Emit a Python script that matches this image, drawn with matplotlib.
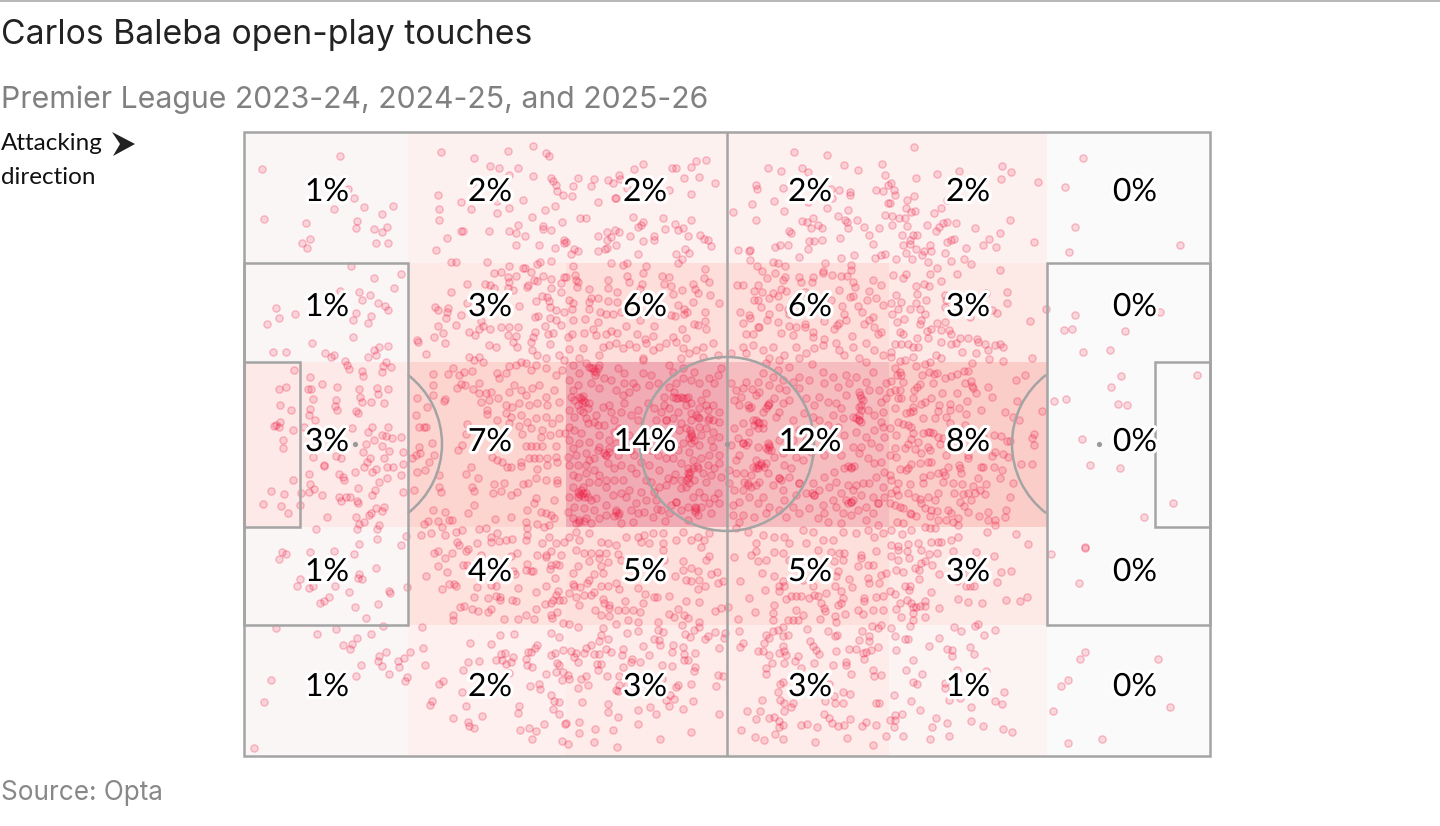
import matplotlib
matplotlib.use("Agg")
import matplotlib.pyplot as plt
import matplotlib.patheffects as pe
from matplotlib.colors import to_rgb
from matplotlib.patches import Rectangle, Circle, Arc, Polygon
from matplotlib.lines import Line2D
import numpy as np

TITLE = "Carlos Baleba open-play touches"
SUBTITLE = "Premier League 2023-24, 2024-25, and 2025-26"
SOURCE = "Source: Opta"

# zone labels, rows top to bottom, columns left to right
zone_pct = [
    [1, 2, 2, 2, 2, 0],
    [1, 3, 6, 6, 3, 0],
    [3, 7, 14, 12, 8, 0],
    [1, 4, 5, 5, 3, 0],
    [1, 2, 3, 3, 1, 0],
]
# the same shares before rounding, estimated from the shading
zone_share = [
    [1.0, 1.8, 1.8, 1.8, 1.8, 0.0],
    [1.0, 3.0, 5.5, 5.5, 3.0, 0.0],
    [2.8, 7.0, 14.0, 12.0, 8.0, 0.0],
    [1.0, 4.0, 5.0, 5.0, 3.0, 0.0],
    [1.0, 2.0, 2.6, 2.6, 1.4, 0.0],
]
# touches, read per block of the pitch; a pitch unit is a third of a pixel
touches_top_left = [(288,73),(53,111),(311,172),(331,197),(360,225),(447,221),(269,231),(415,245),(61,261),(339,267),(186,272),(337,288),(389,291),(429,284),(415,300),(198,321),(174,332),(188,349),(395,333),(432,334),
(592,60),(690,79),(792,57),(867,41),(907,62),(916,73),(737,103),(766,109),(821,109),(795,129),(867,133),(922,137),(926,146),(936,160),(939,178),(956,190),(683,152),(583,189),(650,210),(838,203),(758,208),(586,231),(682,231),(794,228),(902,233),(934,223),(760,244),(864,255),(586,265),(954,270),(821,280),(896,281),(896,291),(922,295),(652,296),(658,296),(734,297),(794,296),(815,302),(844,313),(609,319),(961,325),(961,333),(815,340),(885,340),(934,347),(577,355),
(621,389),(635,390),(728,391),(794,403),(838,407),(842,409),(887,391),(880,396),(922,388),(749,424),(771,421),(815,432),(861,420),(896,431),(793,436),(795,450),(793,468),(808,475),(670,456),(722,456),(739,458),(751,467),(851,460),(850,466),(870,443),(880,448),(920,441),(951,452),(961,435),(921,467),(951,479),(621,479),(893,491),(910,495),(876,506),(914,508),(670,513),(826,523),(918,525),(574,526),(583,534),(612,528),(610,541),(605,558),(650,549),(882,552),(872,556),(918,558),(935,535),(961,540),(936,565),(950,578),(712,568),(718,582),(581,582),(635,578),(902,581),(771,585),(794,585),(821,585),(737,590),(705,590),(597,604),(569,616),(674,601),(693,608),(792,610),(815,612),(873,601),(868,616),(913,605),(928,604),(520,624),
(322,403),(391,437),(470,425),(450,467),(345,479),(377,490),(354,505),(401,512),(424,523),(432,533),(288,477),(96,529),(105,557),(154,546),(337,543),(326,563),(380,551),(371,574),(69,576),(328,616),(290,530)]

touches_top_centre = [(683,60),(782,68),(421,83),(391,87),(232,96),(205,112),(319,107),(331,107),(376,104),(605,107),(646,118),(708,108),(727,119),(835,99),(875,114),(948,96),(958,130),(35,137),(84,141),(127,145),(142,152),(160,128),(162,142),(353,137),(400,135),(446,152),(20,163),(75,161),(183,168),(310,174),(376,186),(17,193),(95,210),(147,198),(150,198),(571,160),(573,170),(652,167),(795,172),(820,174),(853,181),(851,190),(797,199),(930,174),(950,176),(965,160),(623,208),(559,216),(727,210),(501,240),(655,238),(782,227),(846,234),(965,214),(958,248),(43,259),(60,257),(200,254),(290,257),(374,263),(232,270),(226,278),(217,285),(328,275),(298,291),(335,294),(352,289),(571,265),(709,268),(722,270),(742,258),(736,289),(755,279),(768,288),(815,251),(837,263),(843,270),(846,288),(874,264),(895,285),(938,289),(95,312),(124,301),(148,293),(159,301),(134,316),(124,323),(191,312),(365,311),(403,310),(415,320),(427,325),(436,341),(265,313),(263,325),(232,326),(0,330),(151,338),(668,297),(675,304),(909,308),(823,317),(730,328),(744,326),(768,325),(922,337),(628,344),(641,340),(667,340),(727,350),(123,348),(117,350),(95,357),(25,351),(37,356),(14,365),(356,351),(369,362),(331,365),(217,367),(516,355),(548,358),(553,354),(698,375),(826,377),(864,368),(926,377),(946,370),(956,365),(347,381),(336,393),(553,385),(136,394),(183,393),(170,400),(20,402),(240,403),(621,389),(637,394),(656,402),(572,403),(588,416),(776,392),(856,400),(856,413),(770,418),(417,412),
(0,435),(26,430),(30,445),(36,450),(32,465),(182,431),(232,424),(127,443),(190,449),(228,455),(288,432),(310,436),(295,456),(316,462),(414,437),(430,450),(381,455),(388,472),(397,484),(68,471),(125,467),(152,481),(222,470),(321,487),(347,475),(432,488),(75,497),(95,497),(125,506),(153,511),(20,512),(8,503),(70,511),(458,512),(380,509),(336,518),(70,530),(18,530),(353,530),(103,541),(120,547),(140,547),(165,541),(280,548),(316,549),(326,553),(355,545),(362,540),(417,541),(58,560),(97,570),(22,565),(180,582),(222,565),(263,582),(417,567),(385,575),(397,580),(347,590),(80,590),(55,604),(120,607),(135,597),(152,604),(18,605),(5,615),(90,610),(212,605),(262,612),(322,615),(360,618),(420,590),(238,620),
(514,459),(531,459),(575,460),(563,478),(587,479),(608,498),(620,484),(635,492),(652,444),(658,434),(603,437),(626,424),(698,436),(704,450),(742,436),(737,449),(770,423),(797,429),(824,432),(842,431),(860,450),(866,465),(646,470),(660,477),(696,485),(716,479),(820,475),(860,492),(852,495),(910,476),(945,459),(921,443),(565,505),(577,505),(585,525),(521,540),(548,548),(552,558),(610,545),(602,565),(640,525),(665,530),(668,545),(795,505),(828,522),(835,545),(875,523),(889,540),(904,505),(930,497),(950,520),(531,572),(575,585),(560,605),(540,605),(580,585),(636,570),(668,583),(690,585),(716,575),(717,585),(645,602),(680,610),(742,600),(740,615),(775,566),(820,572),(812,580),(805,590),(840,565),(858,612),(920,555),(908,565),(925,585),(895,575),(935,605),(945,600),(775,620)]

touches_top_right = [(77,45),(585,79),(341,101),(370,119),(213,116),(147,126),(83,138),(338,141),(451,149),(530,164),(10,152),(18,175),(22,190),(78,192),(57,203),(176,204),(6,213),(54,229),(80,237),(70,241),(158,229),(138,244),(12,253),(34,257),(50,259),(13,279),(57,281),(118,280),(367,263),(178,270),(165,274),(152,285),(144,297),(203,274),(260,288),(561,286),(335,302),(42,310),(75,310),(87,310),(66,325),(303,322),(198,320),(190,325),(178,329),(437,331),(286,338),(45,340),(65,335),(127,340),(323,344),(234,348),(875,340),(84,351),(130,356),(108,357),(103,369),(170,364),(55,363),(544,361),(25,381),(71,381),(190,386),(228,381),(120,390),(248,397),(147,407),(335,415),(54,425),(15,428),(45,437),(127,426),(208,427),(159,446),(83,461),(108,456),(124,463),(358,479),(295,483),(23,489),(88,486),(170,490),(115,505),(175,505),(356,513),(40,510),(8,513),(83,512),(172,525),(65,530),(30,530),(97,532),(112,545),(13,546),(312,535),(326,544),(474,530),(561,550),(817,541),(245,555),(47,561),(28,571),(97,575),(147,572),(170,569),(425,567),(100,565),(527,593),(552,590),(712,598),(35,600),(45,605),(130,590),(118,598),(160,595),(182,595),(190,606),(88,617),(120,617),(215,618),(240,618),(268,622)]

touches_mid_left = [(203,9),(88,35),(125,35),(244,38),(260,50),(270,44),(390,30),(405,20),(432,18),(372,52),(395,46),(303,62),(310,74),(314,86),(151,91),(354,94),(357,108),(197,110),(425,67),(418,78),(440,82),(415,95),(235,132),(279,140),(125,140),(104,148),(193,146),(200,146),(345,147),(400,143),(401,163),(432,147),(207,176),(348,170),(355,185),(380,186),(421,190),(275,180),(272,198),(279,209),(108,196),(142,211),(197,207),(195,226),(336,212),(342,218),(214,239),(108,247),(97,255),(90,258),(104,262),(179,260),(146,269),(325,263),(385,262),(372,276),(433,262),(414,284),(425,288),(445,295),(470,291),(116,299),(116,323),(390,299),(365,311),(414,318),(435,333),(476,337),(275,348),(208,350),(290,354),(357,335),(377,355),(368,365),(420,353),(360,382),(240,375),(240,379),(395,388),(385,397),(428,380),(448,381),(476,371),(194,402),(285,401),(297,410),(299,420),(334,395),(470,404),(430,415),(406,427),(148,419),(197,432),(210,446),(195,457),(343,444),(82,453),(120,463),(172,460),(235,464),(393,450),(385,465),(476,456),(285,471),(306,470),(318,471),(292,483),(340,483),(342,490),(58,491),(110,498),(168,494),(395,505),(420,501),(415,512),(380,518),(375,525),(133,519),(250,532),(337,530),(360,545),(345,551),(338,568),(405,554),(400,566),(215,567),(398,597),(345,613),(470,616),(485,587),
(521,6),(603,8),(545,41),(674,50),(705,50),(690,60),(718,67),(756,20),(735,15),(808,6),(820,20),(860,5),(865,30),(880,45),(905,53),(918,12),(945,45),(960,60),(795,79),(815,75),(830,65),(845,70),(628,85),(660,97),(683,92),(645,105),(612,101),(566,101),(760,100),(785,100),(765,115),(905,85),(860,90),(875,75),(935,105),(955,90),(566,136),(650,133),(640,145),(662,135),(705,129),(688,147),(705,160),(725,160),(742,155),(795,155),(810,135),(830,150),(845,165),(865,145),(885,135),(905,172),(930,150),(568,165),(603,178),(600,182),(710,187),(735,180),(763,175),(520,175),(550,200),(785,195),(805,200),(825,190),(855,195),(880,190),(910,195),(945,185),(730,210),(728,222),(785,220),(800,230),(830,225),(850,245),(875,235),(905,230),(945,235),(516,226),(525,262),(540,260),(545,262),(670,253),(667,281),(760,240),(795,250),(825,258),(860,265),(895,270),(925,250),(835,282),(890,290),(918,285),(945,280),(963,280),(563,310),(642,330),(655,315),(525,320),(845,318),(860,318),(875,318),(895,318),(935,318),(515,345),(528,340),(505,355),(570,345),(555,365),(855,353),(870,353),(885,353),(910,355),(935,350),(940,365),(745,350),(760,360),(775,365),(830,365),(830,378),(518,395),(542,391),(681,380),(790,380),(800,380),(880,388),(910,375),(585,405),(667,402),(702,414),(836,432),(852,428),(750,432),(780,430),(875,415),(905,420),(938,420),(940,430),(511,450),(585,440),(590,455),(685,440),(690,453),(748,458),(770,453),(800,465),(820,455),(875,475),(870,490),(930,480),(690,495),(566,510),(603,517),(673,520),(800,532),(850,510),(890,515),(905,520),(920,525),(930,535),(615,540),(625,540),(552,543),(540,552),(583,543),(752,537),(845,545),(880,552),(900,560),(915,555),(593,560),(635,575),(655,570),(705,568),(725,565),(760,578),(850,565),(530,585),(560,580),(603,585),(640,605),(645,615),(700,608),(740,590),(740,605),(765,602),(785,600),(805,597),(850,585),(845,600),(895,610),(915,590),(935,610),(960,605)]

touches_mid_centre = [(10,28),(40,55),(50,25),(100,45),(110,20),(130,15),(150,10),(170,25),(190,12),(210,20),(240,10),(260,30),(280,20),(300,10),(330,5),(350,25),(370,40),(390,30),(410,20),(440,10),(455,45),(230,55),(345,55),(410,50),
(530,20),(560,15),(590,30),(620,20),(655,45),(690,20),(720,40),(745,25),(770,15),(810,10),(820,30),(860,20),(900,10),(925,30),(950,45),(540,40),(610,55),(640,60),(700,55),(835,45),(880,55),
(20,75),(60,70),(75,85),(90,95),(100,75),(115,115),(135,120),(155,85),(175,100),(175,130),(200,130),(230,60),(230,100),(255,105),(275,130),(310,75),(320,95),(350,85),(385,95),(400,130),(375,120),(445,130),(465,85),(420,160),(40,100),(10,120),(75,130),(100,145),(35,135),(150,150),(170,165),(190,155),(210,140),(250,135),
(15,170),(40,170),(50,180),(70,190),(35,195),(10,210),(50,215),(65,205),(90,225),(110,200),(130,195),(175,190),(215,210),(295,170),(325,155),(335,175),(350,175),(365,172),(405,180),(440,195),(295,195),(285,215),(310,205),(335,215),(360,195),(375,220),(395,232),(425,240),(440,240),(460,245),(300,240),(320,235),(345,250),(375,240),(400,260),
(10,260),(25,270),(45,280),(65,250),(95,255),(100,285),(130,300),(145,240),(160,265),(190,285),(145,275),(375,285),(340,270),(360,265),(300,285),(420,265),(435,300),(440,320),(400,315),(375,310),(350,310),(310,305),(335,330),(370,335),
(10,300),(40,310),(70,305),(100,320),(120,345),(150,310),(155,345),(30,345),(60,340),(85,355),(5,350),(300,355),(320,355),(345,370),(380,360),(395,385),(365,385),(405,355),(425,375),(458,370),(250,375),(280,390),(328,403),(305,415),(365,415),(370,405),(435,405),(420,425),(465,410),(10,375),(35,375),(60,375),(85,390),(125,370),(145,385),(165,375),(195,385),(210,400),(35,410),(60,400),(100,405),(120,420),(145,420),(170,420),
(50,440),(35,455),(45,465),(60,460),(75,480),(20,440),(10,470),(120,440),(140,465),(165,460),(190,450),(225,455),(255,425),(265,455),(300,435),(345,445),(360,440),(400,457),(455,460),(415,470),(430,490),(445,475),(380,470),(330,485),(315,495),(270,480),(210,490),(120,495),(90,475),
(150,510),(155,525),(120,525),(100,535),(40,540),(20,535),(60,535),(75,548),(165,548),(200,545),(215,520),(235,515),(272,508),(262,530),(296,543),(388,500),(388,510),(395,525),(435,520),(365,540),(330,487),(5,515),
(30,575),(10,590),(40,600),(70,580),(105,605),(125,610),(150,615),(215,590),(235,585),(260,580),(290,580),(225,605),(250,610),(290,610),(330,600),(350,575),(375,600),(395,590),(415,600),(430,580),(405,620),(180,590),
(495,40),(530,145),(557,148),(580,155),(505,180),(520,195),(550,205),(570,165),(605,195),(640,145),(660,150),(700,110),(730,120),(620,110),(590,100),(600,70),(635,90),(670,80),(738,72),(772,95),(800,110),(840,105),(870,110),(920,95),(900,65),(960,130),(760,170),(785,185),(810,190),(880,155),(885,175),(885,195),(910,150),(840,165),(945,185),(825,205),(880,225),(880,240),(925,225),(950,215),(860,230),
(505,265),(530,250),(560,240),(575,245),(590,265),(630,230),(640,215),(680,240),(700,270),(815,260),(785,255),(760,240),(835,285),(870,275),(900,290),(925,270),(950,260),
(530,310),(545,305),(575,320),(610,315),(605,330),(640,300),(650,340),(510,360),(520,345),(570,360),(585,375),(575,385),(600,370),(625,350),(655,375),(690,350),(710,360),(825,345),(860,320),(855,385),(835,385),(880,340),(940,320),(905,355),(925,370),(945,365),
(510,400),(535,400),(555,405),(545,430),(570,435),(605,400),(640,415),(675,385),(700,430),(650,450),(590,470),(550,470),(520,485),(500,495),(530,525),(575,490),(610,500),(640,510),(690,465),(720,460),(745,465),(770,495),(730,505),(700,520),(660,530),(775,410),(805,395),(810,425),(845,435),(870,435),(890,430),(840,480),(855,485),(830,520),(885,465),(935,490),(950,440),(900,500),(935,555),(900,540),(920,520),(855,525),(775,520),(800,480),
(510,565),(545,575),(570,610),(590,585),(625,590),(655,590),(670,610),(710,570),(740,575),(770,600),(800,600),(830,575),(870,580),(905,570),(925,590),(950,580),(720,610),
# denser clusters of the centre block
(80,85),(85,92),(70,80),(95,85),(88,105),(45,175),(52,168),(48,190),(58,185),(42,210),(25,180),(375,280),(378,290),(370,295),(385,300),(372,270),(380,385),(372,395),(392,378),(365,400),(360,420),(370,430),(390,505),(386,515),(45,450),(50,458),(40,462),(55,470),(65,472),(35,470),(150,515),(158,520),(145,528),(40,545),(30,548),(55,542),(120,345),(115,340),(130,335),(300,240),(390,225),(400,235),(430,235),(330,175),(345,170),(320,170),(360,175),
(570,240),(580,250),(565,255),(575,265),(590,250),(605,195),(600,205),(610,190),(575,375),(585,370),(570,385),(595,380),(560,380),(610,320),(600,325),(615,330),(605,310),(545,435),(555,440),(535,425),(545,195),(555,200),(530,310),(540,315),(880,200),(885,210),(890,180),(882,165),(878,240),(870,235),(885,245),(855,380),(865,378),(845,378),(855,485),(845,490),(860,480),(935,490),(745,465),(738,458),(640,415),(645,420),(700,430),
(20,150),(25,230),(60,235),(85,245),(115,255),(135,215),(165,215),(195,225),(215,240),(245,190),(265,205),(270,240),(240,285),(215,300),(235,325),(255,330),(275,345),(205,345),(225,365),(95,330),(130,325),(175,315),(195,330),(20,325),(70,360),(95,425),(70,425),(20,405),(85,510),(25,500),(55,505),(180,470),(195,510),(240,480),(285,510),(310,520),(345,510),(365,500),(405,500),(460,490),(240,420),(280,440),(320,420),(345,420),(385,420),(410,400),(445,385),(460,345),(430,345),(405,285),(440,275),(460,290),(425,210),(460,215),(420,195),(400,205),(375,190),(310,140),(330,130),(350,115),(430,115),(455,105),
(495,130),(510,150),(525,170),(540,125),(575,125),(610,135),(650,120),(680,125),(700,145),(720,175),(745,195),(775,130),(815,140),(850,130),(900,125),(940,150),(960,175),(800,225),(830,235),(905,210),(945,245),(955,290),(915,310),(885,320),(800,305),(775,345),(790,290),(720,300),(735,335),(680,300),(665,275),(715,220),(740,230),(670,180),(650,190),(625,175),(590,215),(550,275),(515,295),(495,315),(490,390),(490,430),(505,450),(530,450),(580,425),(620,435),(670,410),(655,480),(680,500),(740,430),(760,450),(790,440),(825,460),(860,450),(910,430),(930,410),(955,395),(955,470),(920,470),(875,510),(810,500),(785,545),(825,550),(755,535),(600,520),(565,530),(500,525),(520,545)]

touches_mid_right = [(585,35),(666,31),(433,54),(698,108),(927,104),(669,142),(498,183),(535,178),(689,193),(718,196),(582,297),(605,374),(695,384),(854,489),(768,532),(590,620),
(20,12),(40,12),(60,12),(75,20),(90,20),(160,5),(190,12),(205,8),(270,5),(290,12),(320,15),(335,12),(345,20),(222,35),(263,38),(300,30),(303,58),(344,63),(252,68),(10,35),(10,50),(35,62),(50,60),(75,50),(145,45),(160,55),(110,72),(85,78),(125,65),(20,85),(35,95),(40,105),(28,105),(102,105),(122,97),(147,100),(138,102),(172,113),(190,108),(208,102),(228,92),(240,92),(411,104),(385,119),(248,122),(232,130),(252,137),(135,128),(45,125),(10,122),(300,140),(95,132),(88,140),(78,150),(20,150),(35,150),(5,155),(162,158),(208,160),(255,145),(265,158),(312,171),(388,182),(40,175),(30,175),(75,175),(130,175),(237,184),(110,185),(100,192),(187,192),(152,195),(20,205),(75,200),(75,212),(65,215),(55,220),(150,212),(185,210),(212,205),(278,211),(352,217),(462,214),(235,221),(375,232),(392,240),(105,235),(140,235),(175,232),(185,248),(30,245),(45,252),(60,255),(70,262),(5,265),(232,255),(120,275),(105,280),(125,275),(135,280),(25,285),(75,280),(318,284),(340,288),(438,282),(432,294),(70,298),(150,290),(165,295),(285,290),(365,302),(358,303),(90,305),(60,312),(155,312),(437,315),(22,325),(50,325),(80,328),(120,320),(125,330),(320,335),(312,348),(346,341),(360,352),(100,340),(175,345),(240,345),(240,355),(5,345),(25,350),(130,365),(120,365),(95,370),(70,372),(60,383),(400,371),(431,373),(212,375),(215,385),(280,382),(285,380),(317,381),(342,390),(35,388),(55,390),(180,380),(165,395),(150,398),(220,398),(5,405),(105,410),(125,405),(170,405),(335,413),(270,414),(65,432),(195,430),(222,433),(293,431),(375,430),(10,420),(30,430),(165,425),(105,430),(255,437),(275,450),(25,450),(10,460),(30,465),(60,460),(150,458),(197,459),(225,461),(240,460),(260,460),(292,461),(367,470),(80,470),(95,478),(100,490),(120,470),(140,480),(215,485),(250,480),(228,497),(5,488),(20,495),(35,500),(45,505),(355,509),(300,515),(65,518),(70,522),(110,505),(130,510),(148,512),(180,510),(190,520),(240,517),(272,528),(85,527),(125,528),(210,535),(150,540),(173,541),(350,532),(322,540),(300,541),(320,555),(28,545),(45,550),(195,547),(210,555),(110,562),(125,565),(140,565),(10,570),(68,570),(297,575),(385,582),(42,583),(210,590),(190,601),(160,605),(150,605),(130,605),(420,611),(60,613),(90,610),(30,618),(10,615)]

touches_low_left = [(114,13),(125,17),(104,32),(197,12),(270,10),(331,17),(395,60),(345,78),(342,90),(353,94),(169,94),(160,115),(194,119),(208,113),(273,115),(314,132),(256,146),(241,160),(227,165),(401,169),(334,178),(366,210),(436,128),(437,135),(490,118),(96,240),(218,257),(276,243),(418,233),(340,270),(380,259),(296,291),(325,289),(319,304),(406,323),(427,313),(401,338),(415,355),(351,351),(461,340),(479,331),(499,312),(464,358),(435,379),(490,386),(337,385),(482,400),(82,396),(61,461),(30,600),
(570,16),(581,10),(604,29),(624,14),(665,10),(673,3),(712,20),(800,25),(818,16),(879,22),(907,20),(907,28),(921,8),(950,20),(583,53),(658,52),(668,52),(609,73),(545,85),(806,70),(814,78),(850,47),(845,65),(860,68),(868,70),(920,52),(935,48),(945,50),(917,62),(933,90),(905,113),(616,108),(630,108),(635,115),(594,124),(700,116),(740,112),(757,115),(823,120),(877,132),(942,130),(937,142),(690,146),(731,150),(757,143),(768,148),(767,157),(804,157),(815,160),(928,155),(920,165),(945,155),(958,156),(648,178),(661,174),(685,184),(702,188),(740,183),(731,193),(876,183),(902,169),(626,200),(627,216),(780,212),(821,212),(847,201),(870,213),(921,200),(925,210),(938,193),(958,225),
(534,238),(537,300),(543,350),(679,285),(742,289),(768,261),(809,257),(922,254),(945,266),(958,306),(784,314),(770,318),(757,335),(775,337),(786,347),(801,341),(806,328),(845,332),(852,312),(860,312),(878,290),(872,300),(850,350),(864,358),(922,320),(933,316),(940,345),(945,350),(673,341),(705,340),(658,365),(795,375),(907,377),(935,372),(958,372),(955,397),(586,408),(598,400),(653,431),(858,414),(885,408),(887,422),(922,441),(930,460),(945,463),(667,473),(563,460),(557,471),(826,473),(821,495),(928,484),(945,498),(626,510),(714,503),(673,522),(674,535),(690,539),(899,527),(829,545),(856,540),(876,549),(864,572),(962,527),(955,580)]

touches_low_centre = [(30,7),(55,15),(75,15),(100,15),(120,15),(155,17),(165,35),(70,40),(100,30),(125,43),(35,55),(85,78),(105,55),(112,75),(20,75),(70,95),(62,105),(20,108),(25,113),(43,117),(85,132),(105,113),(125,115),(150,105),(158,122),(55,142),(75,140),(10,135),(30,148),(38,170),(110,152),(115,165),(130,170),(128,180),(88,185),(155,185),(178,160),(178,187),(200,185),(222,193),(232,165),(215,120),(238,138),(265,147),(272,147),(310,144),(360,160),(400,163),(105,200),(128,205),(185,215),(217,221),(275,221),(310,197),(325,208),(336,182),(355,200),(365,209),(400,222),(347,232),(295,35),(290,5),(350,40),(350,65),(375,60),(395,70),(328,85),(360,97),(375,100),(400,97),(435,78),(452,73),(456,104),(470,100),(397,124),(418,115),(420,35),(430,25),(447,190),(464,179),(487,177),
(8,227),(36,237),(110,240),(105,260),(150,228),(182,255),(217,250),(275,245),(292,253),(356,257),(373,266),(385,245),(400,237),(448,251),(478,255),(427,265),(417,273),(475,270),(125,272),(100,280),(75,290),(60,300),(230,294),(265,273),(280,275),(282,290),(320,290),(350,297),(458,299),(15,310),(30,315),(55,315),(85,318),(98,318),(120,303),(135,312),(170,303),(167,320),(250,322),(318,311),(355,318),(388,315),(25,327),(35,342),(198,333),(195,342),(223,341),(355,335),(365,335),(92,347),(105,349),(171,357),(287,352),(318,355),(388,356),(385,370),(95,367),(5,380),(10,393),(45,393),(60,385),(122,384),(160,385),(287,392),(455,382),(470,384),(67,411),(35,420),(160,410),(150,425),(155,428),(182,412),(335,410),(330,418),(375,408),(450,413),(48,461),(125,468),(312,442),(300,455),(325,453),(308,475),(382,458),(125,491),(217,487),(252,478),(269,497),(350,484),(458,498),(156,507),(0,526),(40,523),(217,529),(40,555),(87,542),(140,546),(374,551),(84,583),(5,587),(153,597),(281,572),
(505,28),(555,20),(570,8),(575,38),(600,35),(625,12),(650,15),(670,35),(757,5),(795,12),(820,15),(835,15),(885,20),(885,30),(930,10),(805,40),(830,35),(875,55),(920,50),(905,52),(588,75),(625,83),(815,70),(810,85),(850,93),(905,90),(945,80),(960,75),(521,99),(650,100),(640,115),(655,115),(710,95),(740,115),(808,115),(858,118),(910,105),(940,105),(597,125),(550,150),(640,130),(660,152),(675,145),(690,145),(705,145),(730,150),(745,140),(755,145),(780,135),(825,130),(830,150),(825,165),(815,172),(895,150),(895,160),(930,147),(950,145),(568,191),(623,172),(620,195),(620,216),(690,185),(710,200),(695,215),(680,217),(665,217),(765,165),(775,180),(778,190),(763,213),(808,205),(810,222),(838,197),(875,187),(890,197),(920,185),(950,185),(515,212),(518,248),(522,296),(530,285),(652,236),(635,246),(620,250),(600,260),(610,270),(595,285),(665,260),(650,265),(722,243),(733,280),(740,293),(750,305),(758,318),(785,248),(808,265),(812,262),(878,275),(888,250),(918,235),(935,240),(945,232),(910,265),(910,280),(935,297),(915,305),(900,312),(890,315),(870,302),(850,302),(810,308),(577,310),(592,310),(610,320),(640,315),(650,295),(655,310),(660,320),(618,345),(655,345),(688,338),(695,325),(745,345),(802,351),(840,342),(840,352),(893,333),(600,360),(600,378),(705,360),(855,379),(920,367),(925,385),(945,382),(641,407),(652,401),(635,431),(790,407),(830,432),(852,438),(643,456),(653,465),(680,465),(588,455),(655,488),(675,477),(778,458),(805,445),(806,465),(832,465),(930,465),(940,465),(542,490),(583,490),(571,512),(608,510),(625,506),(640,520),(650,530),(640,538),(775,497),(788,510),(798,525),(815,535),(835,530),(852,512),(705,530),(722,527),(753,537),(888,533),(900,522),(930,530),(525,545),(568,566),(594,576),(627,559),(652,572),(748,582),(843,571),(920,591),(960,565)]

touches_low_right = [(30,5),(58,8),(100,5),(122,18),(147,16),(196,10),(265,13),(318,25),(490,18),(590,0),(10,25),(30,35),(62,30),(98,44),(110,40),(133,50),(80,60),(92,65),(25,67),(45,72),(92,93),(152,77),(188,90),(240,75),(338,73),(370,70),(327,101),(573,106),(208,100),(235,113),(245,114),(258,114),(50,115),(65,113),(62,127),(129,131),(5,130),(22,138),(210,154),(240,161),(283,165),(353,155),(397,159),(416,147),(57,156),(37,165),(70,165),(112,160),(112,173),(95,173),(85,177),(152,179),(25,184),(75,178),(75,195),(40,208),(75,216),(112,208),(10,240),(65,235),(197,238),(220,248),(261,234),(269,228),(321,245),(22,265),(52,274),(60,274),(152,270),(289,262),(124,293),(176,304),(193,305),(246,296),(23,307),(193,323),(257,319),(590,311),(575,332),(811,332),(75,335),(54,367),(101,379),(207,366),(295,368),(75,402),(86,408),(170,404),(170,419),(541,396),(520,414),(19,442),(182,455),(68,460),(215,450),(349,433),(320,460),(341,468),(845,476),(494,488),(248,477),(95,487),(43,498),(22,500),(5,515),(22,517),(17,538),(144,510),(176,525),(132,537),(248,518),(286,535),(344,544),(373,551),(45,565),(126,574),(184,563),(541,585),(642,572)]

blocks = [
    [touches_top_left, touches_top_centre, touches_top_right],
    [touches_mid_left, touches_mid_centre, touches_mid_right],
    [touches_low_left, touches_low_centre, touches_low_right],
]

W, H = 1440, 826
PL, PT, PR, PB = 244, 132, 1210, 756
col_edges = [0, 492, 966, 1449, 1935, 2409, 2898]
row_edges = [0, 393, 690, 1185, 1479, 1872]
label_cols = [249, 738, 1203, 1698, 2172, 2673]
label_rows = [174, 519, 924, 1314, 1659]
LINE = "#a4a4a4"
NARROW = ["Lato", "DejaVu Sans"]

fig = plt.figure(figsize=(W / 100, H / 100), dpi=100, facecolor="white")
ax = fig.add_axes([PL / W, 1 - PB / H, (PR - PL) / W, (PB - PT) / H])
ax.set_xlim(0, 2898)
ax.set_ylim(1872, 0)
ax.axis("off")

stops = [0, 1, 2, 3, 4, 6, 8, 12, 14]
cols = ["#fafafa", "#fbf6f6", "#fdf0ee", "#fde9e6", "#fde2de", "#fddcd8", "#fbcdc9", "#f6bdc0", "#f0abb4"]
rgb = np.array([to_rgb(c) for c in cols])
for r, row in enumerate(zone_share):
    for c, v in enumerate(row):
        color = [np.interp(v, stops, rgb[:, i]) for i in range(3)]
        ax.add_patch(Rectangle((col_edges[c], row_edges[r]), col_edges[c + 1] - col_edges[c],
                               row_edges[r + 1] - row_edges[r], fc=color, ec="none", zorder=1))

xs, ys = [], []
for r, row in enumerate(blocks):
    for c, pts in enumerate(row):
        for px, py in pts:
            xs.append(px + c * 966)
            ys.append(py + r * 624)
ax.scatter(xs, ys, s=27, facecolor=(0.93, 0.08, 0.24, 0.15), edgecolor=(0.93, 0.08, 0.24, 0.25),
           linewidth=1.0, zorder=2, clip_on=False)

lw = 1.8
def box(x, y, w, h):
    ax.add_patch(Rectangle((x, y), w, h, fc="none", ec=LINE, lw=lw, zorder=3, clip_on=False))
box(0, 0, 2898, 1872)
box(0, 393, 492, 1086)
box(2409, 393, 489, 1086)
box(0, 690, 168, 495)
box(2733, 690, 165, 495)
ax.add_line(Line2D([1449, 1449], [0, 1872], color=LINE, lw=lw, zorder=3))
ax.add_patch(Circle((1449, 936), 261, fc="none", ec=LINE, lw=lw, zorder=3))
for sx, t1, t2 in [(333, -52.6, 52.6), (2565, 127.4, 232.6)]:
    ax.add_patch(Arc((sx, 936), 522, 522, angle=0, theta1=t1, theta2=t2, ec=LINE, lw=lw, zorder=3))
ax.scatter([333, 1449, 2565], [936, 936, 936], s=14, color="#999999", linewidth=0, zorder=3)

for r, row in enumerate(zone_pct):
    for c, v in enumerate(row):
        ax.text(label_cols[c], label_rows[r] + 6, f"{v}%", ha="center", va="center", fontsize=23,
                family=NARROW, color="black", zorder=5,
                path_effects=[pe.withStroke(linewidth=4.5, foreground="white")])

def ftext(x, y, s, size, color, family):
    fig.text(x / W, 1 - y / H, s, fontsize=size, color=color, family=family, ha="left", va="baseline")

fig.add_artist(Rectangle((0, 1 - 2 / H), 1, 2 / H, transform=fig.transFigure, fc="#b8b8b8", ec="none"))
ftext(1, 44, TITLE, 24.3, "#222222", "Inter")
ftext(1, 108, SUBTITLE, 21.75, "#808080", "Inter")
ftext(1, 800, SOURCE, 18.8, "#888888", "Inter")
ftext(1, 150, "Attacking", 17.5, "#111111", NARROW)
ftext(1, 184, "direction", 17.5, "#111111", NARROW)
fig.add_artist(Polygon([(112 / W, 1 - 132 / H), (135 / W, 1 - 144 / H), (113 / W, 1 - 156 / H), (120 / W, 1 - 144 / H)],
                       closed=True, transform=fig.transFigure, fc="#222222", ec="none"))

fig.savefig("out.png", dpi=100)
